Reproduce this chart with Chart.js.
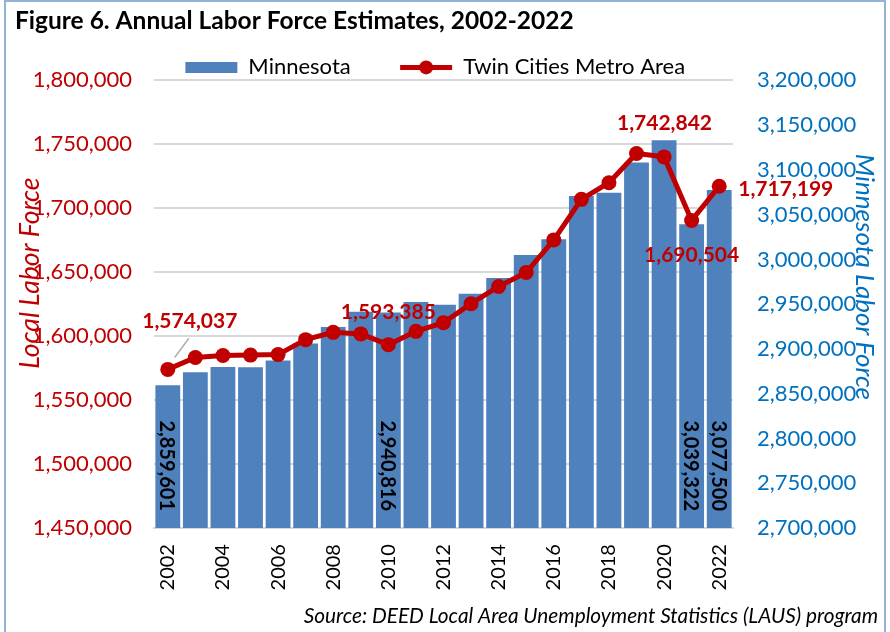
<!DOCTYPE html>
<html>
<head>
<meta charset="utf-8">
<script src="https://cdn.jsdelivr.net/npm/chart.js@4"></script>
<style>
  body { margin: 0; background: #fff; }
  #wrap { width: 890px; height: 632px; }
</style>
</head>
<body>
<div id="wrap"><canvas id="laborChart" width="890" height="632"></canvas></div>
<script>
// Annual labor force estimates, 2002-2022
const years = ['2002','2003','2004','2005','2006','2007','2008','2009','2010','2011','2012',
               '2013','2014','2015','2016','2017','2018','2019','2020','2021','2022'];

// Minnesota labor force (right axis, bars)
const minnesota = [2859601, 2874000, 2880000, 2879600, 2887000, 2906000, 2924600, 2941600, 2940816, 2952500, 2949400,
                   2961700, 2979200, 3005100, 3022600, 3070800, 3074500, 3108400, 3133200, 3039322, 3077500];

// Twin Cities Metro Area labor force (left axis, line)
const twinCities = [1574037, 1583300, 1584900, 1585200, 1585600, 1597300, 1603000, 1601800, 1593385, 1603800, 1610600,
                    1625400, 1638900, 1649800, 1675300, 1707000, 1720000, 1742842, 1740200, 1690504, 1717199];

// which points get a value label
const barLabelIdx = [0, 8, 19, 20];
const lineLabelIdx = [0, 8, 17, 19, 20];

const RED = '#C00000';
const BLUE = '#4F81BD';
const AXISBLUE = '#0070C0';
const FONT = 'Lato';
const NB = '\u00a0';

function fmt(v){ return Number(v).toLocaleString('en-US'); }

// value labels, legend marker and frame
const extras = {
    id: 'extras',
    afterDatasetsDraw(chart){
        const ctx = chart.ctx;
        const bars = chart.getDatasetMeta(0).data;
        const pts = chart.getDatasetMeta(1).data;
        const base = chart.chartArea.bottom;

        ctx.save();
        // bar labels, vertical, sitting near the base
        ctx.font = 'bold 20px ' + FONT;
        ctx.fillStyle = '#000';
        ctx.textAlign = 'right';
        ctx.textBaseline = 'middle';
        barLabelIdx.forEach(i => {
            const b = bars[i];
            ctx.save();
            ctx.translate(b.x - 1, base - 17);
            ctx.rotate(Math.PI / 2);
            ctx.fillText(fmt(minnesota[i]), 0, 0);
            ctx.restore();
        });

        // leader line for the 2002 label
        const p0 = pts[0];
        ctx.strokeStyle = '#A6A6A6';
        ctx.lineWidth = 1.5;
        ctx.beginPath();
        ctx.moveTo(p0.x + 7, p0.y - 12);
        ctx.lineTo(p0.x + 21, p0.y - 31);
        ctx.stroke();

        // line labels
        const offs = {0: [22, -48, 'center'], 8: [0, -32, 'center'], 17: [28, -30, 'center'],
                      19: [0, 35, 'center'], 20: [19, 3, 'left']};
        ctx.font = 'bold 21px ' + FONT;
        ctx.fillStyle = RED;
        lineLabelIdx.forEach(i => {
            const p = pts[i];
            const o = offs[i];
            ctx.textAlign = o[2];
            ctx.fillText(fmt(twinCities[i]), p.x + o[0], p.y + o[1]);
        });
        ctx.restore();
    },
    afterDraw(chart){
        const ctx = chart.ctx;
        ctx.save();
        // marker on the line legend symbol
        const lg = chart.legend;
        if (lg && lg.legendHitBoxes && lg.legendHitBoxes[1]){
            const hb = lg.legendHitBoxes[1];
            ctx.fillStyle = RED;
            ctx.beginPath();
            ctx.arc(hb.left + 26, hb.top + hb.height / 2, 7, 0, Math.PI * 2);
            ctx.fill();
        }
        // outer frame
        ctx.strokeStyle = '#95B3D7';
        ctx.lineWidth = 2;
        ctx.beginPath();
        ctx.moveTo(5, 640);
        ctx.lineTo(5, 1);
        ctx.lineTo(885, 1);
        ctx.lineTo(885, 640);
        ctx.stroke();
        ctx.restore();
    }
};

new Chart(document.getElementById('laborChart'), {
    data: {
        labels: years,
        datasets: [{
            type: 'bar',
            label: 'Minnesota',
            data: minnesota,
            yAxisID: 'y1',
            backgroundColor: BLUE,
            barPercentage: 0.9,
            categoryPercentage: 1.0,
            order: 2
        }, {
            type: 'line',
            label: 'Twin Cities Metro Area',
            data: twinCities,
            yAxisID: 'y',
            borderColor: RED,
            backgroundColor: RED,
            borderWidth: 5,
            pointRadius: 7.5,
            pointHoverRadius: 7.5,
            pointBackgroundColor: RED,
            pointBorderWidth: 0,
            tension: 0,
            order: 1
        }]
    },
    options: {
        responsive: false,
        animation: false,
        layout: { padding: { left: 15, right: 12, top: 0, bottom: 0 } },
        plugins: {
            title: {
                display: true,
                text: 'Figure 6. Annual Labor Force Estimates, 2002-2022',
                align: 'start',
                color: '#000',
                font: { family: FONT, size: 24.5, weight: 'bold', lineHeight: 1.2 },
                padding: { top: 6, bottom: 11 }
            },
            subtitle: {
                display: true,
                position: 'bottom',
                align: 'end',
                text: 'Source: DEED Local Area Unemployment Statistics (LAUS) program',
                color: '#000',
                font: { family: FONT, size: 20.8, style: 'italic', lineHeight: 1.2 },
                padding: { top: 10, bottom: 3 }
            },
            legend: {
                display: true,
                maxHeight: 34,
                labels: {
                    usePointStyle: true,
                    pointStyleWidth: 52,
                    boxHeight: 11,
                    padding: 10,
                    color: '#000',
                    font: { family: FONT, size: 22 },
                    generateLabels: function(chart){
                        return [{
                            text: 'Minnesota' + NB.repeat(7), datasetIndex: 0, pointStyle: 'rect',
                            fillStyle: BLUE, strokeStyle: BLUE, lineWidth: 0, fontColor: '#000'
                        }, {
                            text: 'Twin Cities Metro Area' + NB.repeat(4), datasetIndex: 1, pointStyle: 'line',
                            fillStyle: RED, strokeStyle: RED, lineWidth: 5, fontColor: '#000'
                        }];
                    }
                }
            },
            tooltip: { enabled: false }
        },
        scales: {
            x: {
                grid: { display: false, drawTicks: false },
                border: { display: true, color: '#D9D9D9', width: 2 },
                afterFit: s => { s.height = 66; },
                ticks: {
                    autoSkip: false,
                    maxRotation: 90,
                    minRotation: 90,
                    padding: 16,
                    color: '#000',
                    font: { family: FONT, size: 20 },
                    callback: function(v, i){ return i % 2 === 0 ? years[i] : ''; }
                }
            },
            y: {
                position: 'left',
                min: 1450000,
                max: 1800000,
                afterFit: s => { s.width = 139; },
                grid: { color: '#D9D9D9', lineWidth: 2, drawTicks: false },
                border: { display: false },
                ticks: {
                    stepSize: 50000,
                    padding: 22,
                    color: RED,
                    font: { family: FONT, size: 22 },
                    callback: v => fmt(v)
                },
                title: {
                    display: true,
                    // leading spaces lift the title a little above the axis middle
                    text: NB.repeat(10) + 'Local Labor Force',
                    color: RED,
                    font: { family: FONT, size: 26.5, style: 'italic', lineHeight: 1.15 },
                    padding: 0
                }
            },
            y1: {
                position: 'right',
                min: 2700000,
                max: 3200000,
                afterFit: s => { s.width = 145; },
                grid: { display: false, drawTicks: false },
                border: { display: false },
                ticks: {
                    stepSize: 50000,
                    padding: 24,
                    color: AXISBLUE,
                    font: { family: FONT, size: 22 },
                    callback: v => fmt(v)
                },
                title: {
                    display: true,
                    text: 'Minnesota Labor Force' + NB.repeat(9),
                    color: AXISBLUE,
                    font: { family: FONT, size: 26, style: 'italic', lineHeight: 1.08 },
                    padding: 0
                }
            }
        }
    },
    plugins: [extras]
});
</script>
</body>
</html>
